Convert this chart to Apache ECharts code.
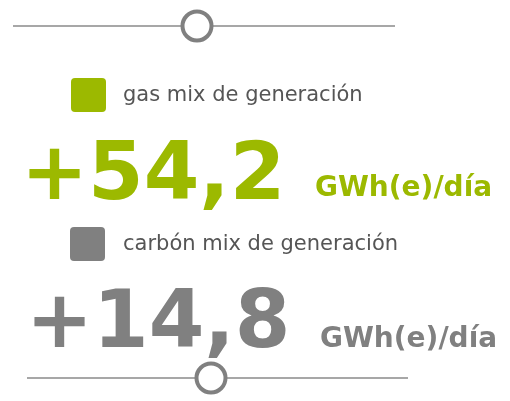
<!DOCTYPE html>
<html>
<head>
<meta charset="utf-8">
<script src="https://cdn.jsdelivr.net/npm/echarts@6/dist/echarts.min.js"></script>
<style>
  html, body { margin: 0; padding: 0; background: #fff; }
  #chart { width: 510px; height: 401px; }
</style>
</head>
<body>
<div id="chart"></div>
<script>
// datos del mix de generación
const categories = ['gas mix de generación', 'carbón mix de generación'];
const values = ['+54,2', '+14,8'];
const units = ['GWh(e)/día', 'GWh(e)/día'];
const colors = ['#9cb900', '#808080'];

const chart = echarts.init(document.getElementById('chart'));

// posiciones de cada bloque
const blocks = [
  { sq: [71, 78], label: [123, 96], value: [21, 178], unit: [315, 189] },
  { sq: [70, 227], label: [123, 245], value: [26, 326], unit: [320, 340] }
];

const elements = [];

// separadores con círculo
function slider(x1, x2, y, cx) {
  elements.push({
    type: 'line',
    shape: { x1: x1, y1: y, x2: x2, y2: y },
    style: { stroke: '#8a8a8a', lineWidth: 1.6 }
  });
  elements.push({
    type: 'circle',
    shape: { cx: cx, cy: y, r: 14.5 },
    style: { fill: '#fff', stroke: '#808080', lineWidth: 4 }
  });
}
slider(13, 395, 26, 197);

categories.forEach((cat, i) => {
  const b = blocks[i];
  elements.push({
    type: 'rect',
    shape: { x: b.sq[0], y: b.sq[1], width: 35, height: 34, r: 4 },
    style: { fill: colors[i] }
  });
  elements.push({
    type: 'text',
    style: {
      x: b.label[0], y: b.label[1], text: cat,
      font: '21px "DejaVu Sans"', fill: '#555555', verticalAlign: 'middle'
    }
  });
  elements.push({
    type: 'text',
    style: {
      x: b.value[0], y: b.value[1], text: values[i],
      font: 'bold 80px "DejaVu Sans"', fill: colors[i], verticalAlign: 'middle'
    }
  });
  elements.push({
    type: 'text',
    style: {
      x: b.unit[0], y: b.unit[1], text: units[i],
      font: 'bold 28px "DejaVu Sans"', fill: colors[i], verticalAlign: 'middle'
    }
  });
});

slider(27, 408, 378, 211);

chart.setOption({
  animation: false,
  graphic: { elements: elements }
});
</script>
</body>
</html>
